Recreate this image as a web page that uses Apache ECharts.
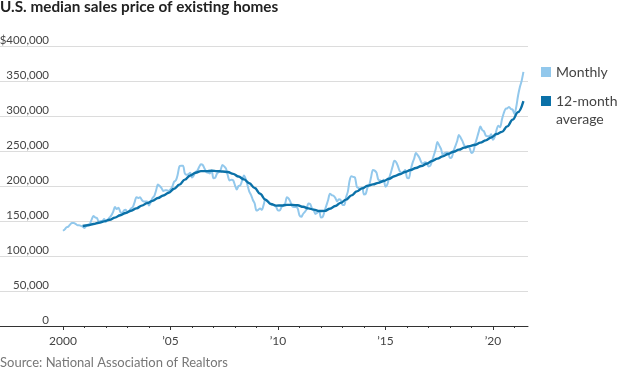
<!DOCTYPE html>
<html>
<head>
<meta charset="utf-8">
<script src="https://cdn.jsdelivr.net/npm/echarts@6/dist/echarts.min.js"></script>
<style>
html, body { margin: 0; padding: 0; background: #fff; }
#chart { width: 620px; height: 375px; }
</style>
</head>
<body>
<div id="chart"></div>
<script>
// median price, thousands of dollars, one value per month from Jan 2000
var startYear = 2000;
var monthly = [
	136, 138, 141, 142, 145, 147, 147, 146, 144, 144, 143, 142, // 2000
	140, 143, 145, 146, 152, 157, 155, 154, 149, 150, 150, 153, // 2001
	149, 152, 155, 158, 163, 170, 167, 169, 163, 161, 165, 166, // 2002
	162, 164, 168, 170, 177, 184, 183, 184, 180, 178, 178, 178, // 2003
	172, 177, 183, 186, 194, 202, 200, 197, 193, 194, 194, 193, // 2004
	195, 199, 206, 208, 216, 228, 229, 229, 218, 216, 217, 219, // 2005
	212, 215, 220, 222, 227, 231, 230, 225, 220, 219, 218, 222, // 2006
	211, 212, 218, 220, 223, 230, 228, 225, 215, 208, 209, 208, // 2007
	201, 195, 200, 201, 208, 215, 210, 201, 192, 187, 180, 175, // 2008
	165, 166, 168, 166, 173, 181, 179, 177, 174, 173, 172, 170, // 2009
	165, 165, 170, 172, 175, 184, 182, 177, 171, 170, 170, 168, // 2010
	158, 156, 160, 163, 167, 175, 174, 168, 165, 160, 162, 164, // 2011
	155, 156, 164, 172, 180, 189, 187, 186, 183, 178, 181, 180, // 2012
	173, 173, 184, 192, 208, 214, 213, 212, 199, 197, 196, 198, // 2013
	188, 189, 198, 202, 213, 223, 222, 219, 209, 208, 206, 209, // 2014
	199, 202, 211, 219, 228, 236, 234, 228, 221, 219, 220, 223, // 2015
	212, 211, 222, 232, 239, 247, 244, 240, 234, 232, 234, 233, // 2016
	228, 229, 236, 244, 252, 263, 258, 253, 245, 247, 248, 247, // 2017
	240, 241, 250, 257, 264, 273, 269, 264, 258, 256, 257, 254, // 2018
	247, 249, 259, 268, 277, 285, 280, 278, 272, 271, 271, 274, // 2019
	266, 270, 280, 286, 284, 295, 304, 310, 311, 313, 310, 309, // 2020
	303, 313, 329, 341, 350, 363                                // 2021
];
// 12-month average, thousands, one value per quarter end from Dec 2000
var avgStart = 2000 + 11 / 12;
var avgQuarterly = [
	142.9,
	144.0, 145.8, 147.5, 149.5,
	151.8, 154.8, 158.3, 161.5,
	164.7, 168.0, 172.0, 175.5,
	178.7, 182.9, 186.5, 190.4,
	196.1, 201.9, 209.1, 215.0,
	218.9, 221.3, 221.2, 221.8,
	221.3, 220.7, 220.1, 217.3,
	213.5, 209.4, 204.0, 197.1,
	189.0, 180.3, 174.3, 172.0,
	172.1, 173.0, 173.0, 172.4,
	170.3, 168.1, 166.2, 164.3,
	164.4, 167.4, 171.5, 175.9,
	180.5, 186.6, 192.3, 196.6,
	200.3, 202.3, 204.5, 207.2,
	210.3, 214.0, 216.8, 220.0,
	222.8, 225.7, 228.6, 231.7,
	235.7, 239.1, 242.3, 245.8,
	249.0, 251.9, 254.8, 256.9,
	258.9, 261.9, 265.2, 269.3,
	274.3, 277.3, 285.2, 294.8,
	305.6, 321.3
];
var labelYears = [2000, 2005, 2010, 2015, 2020];
var tickYears = [2000, 2001, 2002, 2003, 2004, 2005, 2006, 2007, 2008, 2009, 2010,
	2011, 2012, 2013, 2014, 2015, 2016, 2017, 2018, 2019, 2020, 2021];

var monthlyData = [];
for (var i = 0; i < monthly.length; i++) {
	monthlyData.push([startYear + i / 12, monthly[i]]);
}
var avgData = [];
for (var j = 0; j < avgQuarterly.length; j++) {
	avgData.push([avgStart + j * 0.25, avgQuarterly[j]]);
}

var font = 'Lato, "Open Sans", sans-serif';
var xMin = 1997.07, xMax = 2021.63;

var myChart = echarts.init(document.getElementById('chart'));
var option = {
	animation: false,
	title: {
		text: 'U.S. median sales price of existing homes',
		left: 0,
		top: 0,
		padding: 0,
		textStyle: { fontFamily: font, fontSize: 15.3, fontWeight: 'bold', color: '#222' }
	},
	grid: { left: 0, right: 92, top: 46, bottom: 49, containLabel: false, outerBoundsMode: 'none' },
	xAxis: [
		{
			type: 'value',
			min: xMin,
			max: xMax,
			splitLine: { show: false },
			axisLine: { lineStyle: { color: '#333', width: 1 } },
			axisTick: { customValues: labelYears, length: 4, lineStyle: { color: '#333' } },
			axisLabel: {
				customValues: labelYears,
				margin: 9,
				fontFamily: font,
				fontSize: 12,
				color: '#444',
				formatter: function (v) {
					return v === 2000 ? '2000' : '\u2019' + String(v).slice(2);
				}
			}
		},
		{
			type: 'value',
			position: 'bottom',
			min: xMin,
			max: xMax,
			splitLine: { show: false },
			axisLine: { show: false },
			axisTick: { customValues: tickYears, length: 2, lineStyle: { color: '#333' } },
			axisLabel: { show: false }
		}
	],
	yAxis: {
		type: 'value',
		min: 0,
		max: 400,
		interval: 50,
		axisLine: { show: false },
		axisTick: { show: false },
		splitLine: { lineStyle: { color: '#dcdcdc', width: 1 } },
		axisLabel: {
			margin: -49,
			align: 'right',
			verticalAlign: 'bottom',
			fontFamily: font,
			fontSize: 11.5,
			color: '#444',
			formatter: function (v) {
				if (v === 0) return '0';
				return (v === 400 ? '$' : '') + v + ',000';
			}
		}
	},
	series: [
		{
			name: 'Monthly',
			type: 'line',
			data: monthlyData,
			showSymbol: false,
			smooth: 0.3,
			lineStyle: { color: '#92c8ec', width: 2 },
			z: 2
		},
		{
			name: '12-month average',
			type: 'line',
			data: avgData,
			showSymbol: false,
			smooth: 0.4,
			smoothMonotone: 'x',
			lineStyle: { color: '#0b71a8', width: 2.4 },
			z: 3
		}
	],
	graphic: [
		{ type: 'rect', shape: { x: 541, y: 67, width: 10, height: 10 }, style: { fill: '#92c8ec' } },
		{ type: 'text', x: 556, y: 72, style: { text: 'Monthly', font: '14px ' + font, fill: '#444', verticalAlign: 'middle' } },
		{ type: 'rect', shape: { x: 541, y: 96, width: 10, height: 10 }, style: { fill: '#0b71a8' } },
		{ type: 'text', x: 556, y: 92, style: { text: '12-month\naverage', font: '14px ' + font, lineHeight: 18, fill: '#444', verticalAlign: 'top' } },
		{ type: 'text', x: 0, y: 363, style: { text: 'Source: National Association of Realtors', font: '13px ' + font, fill: '#777', verticalAlign: 'middle' } }
	]
};
myChart.setOption(option);
window.onresize = function () {
	myChart.resize();
};
</script>
</body>
</html>
